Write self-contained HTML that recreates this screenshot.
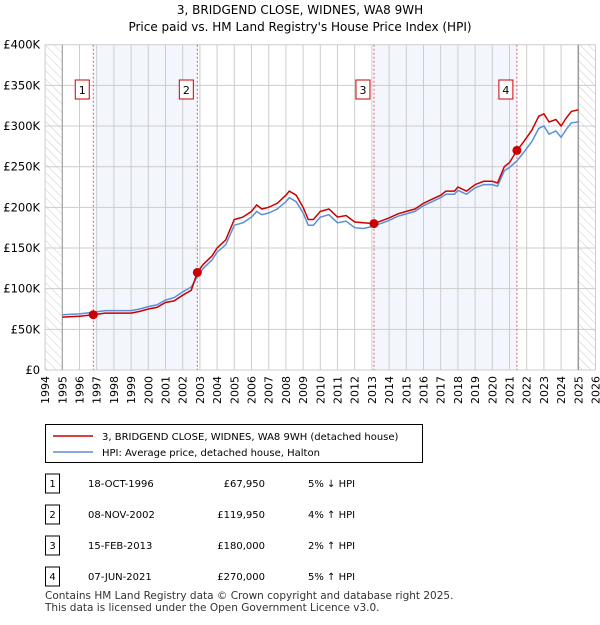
<!DOCTYPE html>
<html><head><meta charset="utf-8"><style>
body{margin:0;background:#fff;font-family:"Liberation Sans","DejaVu Sans",sans-serif;}
svg text{font-family:"DejaVu Sans","Liberation Sans",sans-serif;}
</style></head><body>
<svg width="600" height="620" viewBox="0 0 600 620" xmlns="http://www.w3.org/2000/svg">
<defs><pattern id="hatch" width="6" height="6" patternUnits="userSpaceOnUse" patternTransform="rotate(-45)"><line x1="0" y1="0" x2="0" y2="6" stroke="#ccc" stroke-width="1"/></pattern></defs>
<text x="300" y="14" text-anchor="middle" font-size="12">3, BRIDGEND CLOSE, WIDNES, WA8 9WH</text>
<text x="300" y="31" text-anchor="middle" font-size="12">Price paid vs. HM Land Registry's House Price Index (HPI)</text>
<g id="plot"></g>
<g id="legend">
<rect x="45.5" y="424.5" width="377" height="38" fill="#fff" stroke="#000"/>
<line x1="53" y1="436" x2="93" y2="436" stroke="#cc0000" stroke-width="1.5"/>
<text x="102" y="440" font-size="10">3, BRIDGEND CLOSE, WIDNES, WA8 9WH (detached house)</text>
<line x1="53" y1="452" x2="93" y2="452" stroke="#5b8fd6" stroke-width="1.5"/>
<text x="102" y="456" font-size="10">HPI: Average price, detached house, Halton</text>
</g>
<g id="table"></g>
<text x="45" y="599" font-size="10.5" fill="#333">Contains HM Land Registry data © Crown copyright and database right 2025.</text>
<text x="45" y="611" font-size="10.5" fill="#333">This data is licensed under the Open Government Licence v3.0.</text>
</svg>
<script>
const years=[1995,1996,1996.8,1997.5,1998,1999,1999.5,2000,2000.5,2001,2001.5,2002,2002.5,2002.85,2003.2,2003.7,2004,2004.5,2005,2005.5,2006,2006.3,2006.6,2007,2007.5,2008,2008.2,2008.6,2009,2009.3,2009.6,2010,2010.5,2011,2011.5,2012,2012.5,2013.12,2013.5,2014,2014.5,2015,2015.5,2016,2016.5,2017,2017.3,2017.8,2018,2018.5,2019,2019.5,2020,2020.3,2020.7,2021,2021.43,2021.8,2022.3,2022.7,2023,2023.3,2023.7,2024,2024.3,2024.6,2025];
const priceVals=[65,66,68,70,70,70,72,75,77,83,85,92,98,120,130,140,150,160,185,188,195,203,198,200,205,215,220,215,200,185,185,195,198,188,190,182,181,180,183,187,192,195,198,205,210,215,220,220,225,220,228,232,232,230,250,255,270,280,295,312,315,305,308,300,310,318,320];
const hpiVals=[68,69,71,73,73,73,75,78,80,86,89,96,102,115,125,135,145,154,178,181,188,195,191,193,198,207,212,207,193,178,178,188,191,181,183,175,174,177,180,184,189,192,195,202,207,212,216,216,221,216,224,228,228,226,245,249,257,267,281,297,300,290,294,286,296,304,305];
const sales=[{n:"1",date:"18-OCT-1996",t:1996.8,v:67950,price:"£67,950",pct:"5% ↓ HPI"},{n:"2",date:"08-NOV-2002",t:2002.85,v:119950,price:"£119,950",pct:"4% ↑ HPI"},{n:"3",date:"15-FEB-2013",t:2013.12,v:180000,price:"£180,000",pct:"2% ↑ HPI"},{n:"4",date:"07-JUN-2021",t:2021.43,v:270000,price:"£270,000",pct:"5% ↑ HPI"}];
const yTicks=[0,50,100,150,200,250,300,350,400];
const yLabels=["£0","£50K","£100K","£150K","£200K","£250K","£300K","£350K","£400K"];
const NS="http://www.w3.org/2000/svg";
const X0=45.1,X1=595.5,T0=1994,T1=2026,Y0=370,Y1=44.7;
const xs=t=>X0+(t-T0)/(T1-T0)*(X1-X0);
const ys=v=>Y0-v/400*(Y0-Y1);
function mk(tag,attrs,parent){const e=document.createElementNS(NS,tag);for(const k in attrs)e.setAttribute(k,attrs[k]);parent.appendChild(e);return e;}
const plot=document.getElementById('plot');
mk('rect',{x:X0,y:Y1,width:X1-X0,height:Y0-Y1,fill:'#fff'},plot);
mk('rect',{x:X0,y:Y1,width:xs(1995)-X0,height:Y0-Y1,fill:'url(#hatch)'},plot);
mk('rect',{x:xs(2025),y:Y1,width:X1-xs(2025),height:Y0-Y1,fill:'url(#hatch)'},plot);
for(const [a,b] of [[0,1],[2,3]]){const r=mk('rect',{x:xs(sales[a].t),y:Y1,width:xs(sales[b].t)-xs(sales[a].t),height:Y0-Y1,fill:'#eef3fc',opacity:0.7},plot);

}
for(let y=T0;y<=T1;y++){const l=mk('line',{x1:xs(y),x2:xs(y),y1:Y1,y2:Y0,stroke:'#ccc','stroke-width':1},plot);


const t=mk('text',{x:0,y:0,'font-size':11,'text-anchor':'end',transform:`translate(${xs(y)+4},${Y0+6}) rotate(-90)`},plot);t.textContent=y;

}
yTicks.forEach((v,i)=>{const l=mk('line',{x1:X0,x2:X1,y1:ys(v),y2:ys(v),stroke:'#ccc','stroke-width':1},plot);


const t=mk('text',{x:X0-5,y:ys(v)+4,'font-size':11.5,'text-anchor':'end'},plot);t.textContent=yLabels[i];

});
mk('line',{x1:xs(1995),x2:xs(1995),y1:Y1,y2:Y0,stroke:'#999','stroke-width':1},plot);
mk('line',{x1:xs(2025),x2:xs(2025),y1:Y1,y2:Y0,stroke:'#999','stroke-width':1.5},plot);
sales.forEach(s=>{const l=mk('line',{x1:xs(s.t),x2:xs(s.t),y1:Y1,y2:Y0,stroke:'#e06060','stroke-width':1,'stroke-dasharray':'2,2'},plot);


const b=mk('rect',{x:xs(s.t)-18,y:80,width:14,height:19,fill:'#fff',stroke:'#cc0000'},plot);


const t=mk('text',{x:xs(s.t)-11,y:94,'font-size':11,'text-anchor':'middle'},plot);t.textContent=s.n;

});
function path(vals,color,name){const d=years.map((y,i)=>(i?'L':'M')+xs(y).toFixed(1)+','+ys(vals[i]).toFixed(1)).join('');
const p=mk('path',{d:d,fill:'none',stroke:color,'stroke-width':1.5},plot);

}
path(hpiVals,'#5b8fd6','hpi-line');
path(priceVals,'#cc0000','price-line');
sales.forEach(s=>{const c=mk('circle',{cx:xs(s.t),cy:ys(s.v/1000),r:4.5,fill:'#cc0000'},plot);

});
const tb=document.getElementById('table');
sales.forEach((s,i)=>{const y=487+i*31;
const b=mk('rect',{x:45.5,y:y-13,width:14,height:19,fill:'#fff',stroke:'#000'},tb);


const cells=[[52.5,s.n,'middle'],[88,s.date,'start'],[265,s.price,'end'],[308,s.pct,'start']];
cells.forEach(c=>{const t=mk('text',{x:c[0],y:y,'font-size':10,'text-anchor':c[2]},tb);t.textContent=c[1];

});});
</script>
</body></html>
